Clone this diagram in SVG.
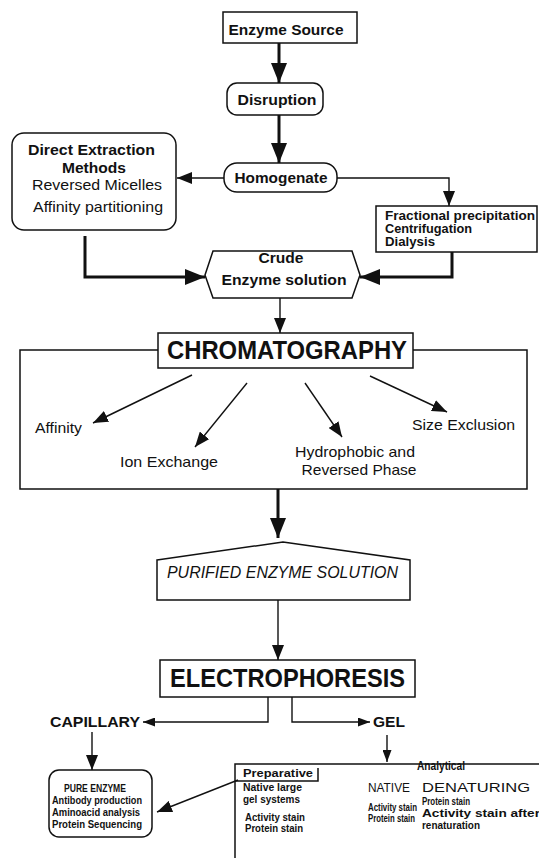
<svg xmlns="http://www.w3.org/2000/svg" width="539" height="863" viewBox="0 0 539 863">
<style>
  .bg{fill:#fff}
  .box{fill:#fff;stroke:#111;stroke-width:1.5}
  .frame{fill:none;stroke:#111;stroke-width:1.5}
  .thin{fill:none;stroke:#111;stroke-width:1.4}
  .thick{fill:none;stroke:#111;stroke-width:3}
  text{font-family:"Liberation Sans",Arial,Helvetica,sans-serif;fill:#111}
  .b{font-weight:bold}
  .t15{font-size:15px}
  .t13{font-size:13px}
  .t12{font-size:12px}
  .t11{font-size:11px}
  .t10{font-size:10px}
  .big{font-size:25px;font-weight:bold}
  .it{font-style:italic;font-size:16px}
  .m{text-anchor:middle}
</style>
<defs>
  <marker id="hb" markerUnits="userSpaceOnUse" markerWidth="20" markerHeight="16" viewBox="0 0 20 16" refX="20" refY="8" orient="auto">
    <path d="M0,0 L20,8 L0,16 z" fill="#111"/>
  </marker>
  <marker id="hm" markerUnits="userSpaceOnUse" markerWidth="15" markerHeight="12" viewBox="0 0 15 12" refX="15" refY="6" orient="auto">
    <path d="M0,0 L15,6 L0,12 z" fill="#111"/>
  </marker>
  <marker id="hs" markerUnits="userSpaceOnUse" markerWidth="12" markerHeight="9" viewBox="0 0 12 9" refX="12" refY="4.5" orient="auto">
    <path d="M0,0 L12,4.5 L0,9 z" fill="#111"/>
  </marker>
</defs>
<rect class="bg" x="0" y="0" width="539" height="863"/>

<g id="connectors">
  <line class="thick" x1="279" y1="43" x2="279" y2="83" marker-end="url(#hb)"/>
  <line class="thick" x1="279" y1="115" x2="279" y2="163" marker-end="url(#hb)"/>
  <line class="thin" x1="224" y1="178" x2="177" y2="178" marker-end="url(#hm)"/>
  <path class="thin" d="M337,178 H449 V206" marker-end="url(#hm)"/>
  <path class="thick" d="M85,236 V277 H205" marker-end="url(#hb)"/>
  <path class="thick" d="M452,252 V277 H360" marker-end="url(#hb)"/>
  <line class="thin" x1="280" y1="298" x2="280" y2="333" marker-end="url(#hm)"/>
  <line class="thin" x1="192" y1="375" x2="93" y2="423" marker-end="url(#hm)"/>
  <line class="thin" x1="247" y1="383" x2="195" y2="447" marker-end="url(#hm)"/>
  <line class="thin" x1="305" y1="383" x2="342" y2="437" marker-end="url(#hm)"/>
  <line class="thin" x1="370" y1="376" x2="447" y2="412" marker-end="url(#hm)"/>
  <line class="thick" x1="278" y1="489" x2="278" y2="538" marker-end="url(#hb)"/>
  <line class="thin" x1="278" y1="600" x2="278" y2="660" marker-end="url(#hm)"/>
  <path class="thin" d="M268,697 V722 H143" marker-end="url(#hs)"/>
  <path class="thin" d="M292,697 V722 H370" marker-end="url(#hs)"/>
  <line class="thin" x1="92" y1="732" x2="92" y2="770" marker-end="url(#hm)"/>
  <line class="thin" x1="387" y1="735" x2="387" y2="762" marker-end="url(#hs)"/>
  <line class="thin" x1="238" y1="780" x2="157" y2="812" marker-end="url(#hm)"/>
</g>

<g id="enzyme-source">
  <rect class="box" x="223" y="12" width="134" height="31"/>
  <text class="b t15 m" x="286" y="35" textLength="115" lengthAdjust="spacingAndGlyphs">Enzyme Source</text>
</g>
<g id="disruption">
  <rect class="box" x="227" y="83" width="96" height="32" rx="10"/>
  <text class="b t15 m" x="277" y="105" textLength="79" lengthAdjust="spacingAndGlyphs">Disruption</text>
</g>
<g id="homogenate">
  <rect class="box" x="224" y="163" width="113" height="29" rx="13"/>
  <text class="b t15 m" x="281" y="183" textLength="93" lengthAdjust="spacingAndGlyphs">Homogenate</text>
</g>
<g id="direct-extraction">
  <rect class="box" x="12" y="133" width="164" height="97" rx="12"/>
  <text class="b t15" x="28" y="155" textLength="127" lengthAdjust="spacingAndGlyphs">Direct Extraction</text>
  <text class="b t15 m" x="94" y="173" textLength="64" lengthAdjust="spacingAndGlyphs">Methods</text>
  <text class="t15" x="32" y="190" textLength="130" lengthAdjust="spacingAndGlyphs">Reversed Micelles</text>
  <text class="t15" x="33" y="212" textLength="130" lengthAdjust="spacingAndGlyphs">Affinity partitioning</text>
</g>
<g id="fractional">
  <rect class="box" x="376" y="206" width="161" height="46"/>
  <text class="b t12" x="385" y="220" textLength="150" lengthAdjust="spacingAndGlyphs">Fractional precipitation</text>
  <text class="b t12" x="385" y="233" textLength="87" lengthAdjust="spacingAndGlyphs">Centrifugation</text>
  <text class="b t12" x="385" y="246" textLength="50" lengthAdjust="spacingAndGlyphs">Dialysis</text>
</g>
<g id="crude">
  <polygon class="box" points="213,251 352,251 360,275 352,298 213,298 205,275"/>
  <text class="b t15 m" x="281" y="263" textLength="45" lengthAdjust="spacingAndGlyphs">Crude</text>
  <text class="b t15 m" x="284" y="285" textLength="125" lengthAdjust="spacingAndGlyphs">Enzyme solution</text>
</g>
<g id="chromatography">
  <path class="frame" d="M158,350 H20 V489 H527 V350 H413"/>
  <rect class="box" x="158" y="333" width="255" height="35"/>
  <text class="big" x="167" y="359" textLength="240" lengthAdjust="spacingAndGlyphs">CHROMATOGRAPHY</text>
</g>
<g id="affinity"><text class="t15" x="35" y="433" textLength="47" lengthAdjust="spacingAndGlyphs">Affinity</text></g>
<g id="ion-exchange"><text class="t15" x="120" y="467" textLength="98" lengthAdjust="spacingAndGlyphs">Ion Exchange</text></g>
<g id="hydrophobic">
  <text class="t15 m" x="355" y="457" textLength="120" lengthAdjust="spacingAndGlyphs">Hydrophobic and</text>
  <text class="t15 m" x="359" y="475" textLength="115" lengthAdjust="spacingAndGlyphs">Reversed Phase</text>
</g>
<g id="size-exclusion"><text class="t15" x="412" y="430" textLength="103" lengthAdjust="spacingAndGlyphs">Size Exclusion</text></g>
<g id="purified">
  <polygon class="box" points="157,560 283,542 410,560 410,600 157,600"/>
  <text class="it" x="167" y="578" textLength="231" lengthAdjust="spacingAndGlyphs">PURIFIED ENZYME SOLUTION</text>
</g>
<g id="electrophoresis">
  <rect class="box" x="160" y="660" width="255" height="37"/>
  <text class="big" x="170" y="687" textLength="235" lengthAdjust="spacingAndGlyphs">ELECTROPHORESIS</text>
</g>
<g id="capillary"><text class="b t15" x="50" y="727" textLength="90" lengthAdjust="spacingAndGlyphs">CAPILLARY</text></g>
<g id="gel"><text class="b t15" x="373" y="727" textLength="32" lengthAdjust="spacingAndGlyphs">GEL</text></g>
<g id="pure-enzyme">
  <rect class="box" x="49" y="770" width="103" height="67" rx="10"/>
  <text class="b t11 m" x="95" y="792" textLength="62" lengthAdjust="spacingAndGlyphs">PURE ENZYME</text>
  <text class="b t11" x="52" y="804" textLength="90" lengthAdjust="spacingAndGlyphs">Antibody production</text>
  <text class="b t11" x="52" y="816" textLength="88" lengthAdjust="spacingAndGlyphs">Aminoacid analysis</text>
  <text class="b t11" x="52" y="828" textLength="90" lengthAdjust="spacingAndGlyphs">Protein Sequencing</text>
</g>
<g id="gel-methods">
  <path class="frame" d="M539,764 H235 V858"/>
  <path class="frame" d="M318,768 V781 H235"/>
  <text class="b t11" x="243" y="777" textLength="70" lengthAdjust="spacingAndGlyphs">Preparative</text>
  <text class="b t12 m" x="441" y="770" textLength="48" lengthAdjust="spacingAndGlyphs">Analytical</text>
  <text class="b t11" x="243" y="791" textLength="59" lengthAdjust="spacingAndGlyphs">Native large</text>
  <text class="b t11" x="243" y="803" textLength="57" lengthAdjust="spacingAndGlyphs">gel systems</text>
  <text class="b t10" x="245" y="821" textLength="60" lengthAdjust="spacingAndGlyphs">Activity stain</text>
  <text class="b t10" x="245" y="832" textLength="58" lengthAdjust="spacingAndGlyphs">Protein stain</text>
  <text class="t13" x="368" y="792" textLength="42" lengthAdjust="spacingAndGlyphs">NATIVE</text>
  <text class="b t10" x="368" y="811" textLength="49" lengthAdjust="spacingAndGlyphs">Activity stain</text>
  <text class="b t10" x="368" y="822" textLength="47" lengthAdjust="spacingAndGlyphs">Protein stain</text>
  <text class="t13" x="422" y="792" textLength="108" lengthAdjust="spacingAndGlyphs">DENATURING</text>
  <text class="b t10" x="422" y="805" textLength="48" lengthAdjust="spacingAndGlyphs">Protein stain</text>
  <text class="b t10" x="422" y="817" textLength="118" lengthAdjust="spacingAndGlyphs">Activity stain after</text>
  <text class="b t10" x="422" y="829" textLength="58" lengthAdjust="spacingAndGlyphs">renaturation</text>
</g>
</svg>
